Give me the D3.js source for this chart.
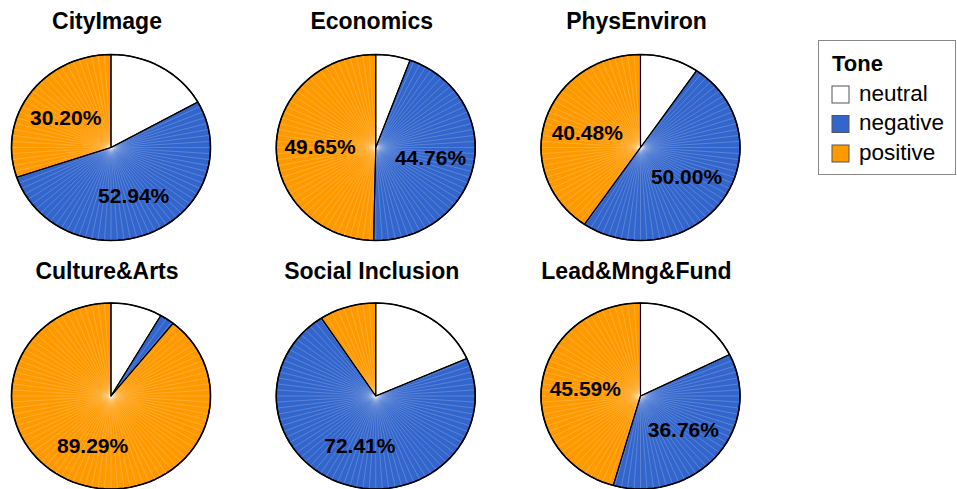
<!DOCTYPE html>
<html>
<head>
<meta charset="utf-8">
<script src="https://cdn.jsdelivr.net/npm/d3@7/dist/d3.min.js"></script>
<style>
  html, body { margin: 0; padding: 0; background: #fff; }
  svg { display: block; font-family: "Liberation Sans", Arial, sans-serif; }
</style>
</head>
<body>
<svg id="chart" width="957" height="489"></svg>
<script>
// ---- data ----
const panels = ["CityImage", "Economics", "PhysEnviron", "Culture&Arts", "Social Inclusion", "Lead&Mng&Fund"];
const tones = ["neutral", "negative", "positive"];
const neutralCounts  = [43, 8, 8, 7, 16, 12];
const negativeCounts = [135, 64, 42, 2, 63, 25];
const positiveCounts = [77, 71, 34, 75, 8, 31];

// ---- layout ----
const svg = d3.select("#chart");
const colX = d3.scalePoint().domain([0, 1, 2]).range([111, 640.5]);
const rowY = d3.scalePoint().domain([0, 1]).range([147.5, 396]);
const titleY = d3.scalePoint().domain([0, 1]).range([29, 279]);
const rx = 99.5, ry = 93;
const color = d3.scaleOrdinal().domain(tones).range(["#ffffff", "#3366cc", "#ff9900"]);
const step = 2 * Math.PI / 96;
const pie = d3.pie().sort(null).value(d => d.count);
const fmt = d3.format(".2f");

function pt(cx, cy, a, r) {
  return [cx + rx * r * Math.sin(a), cy - ry * r * Math.cos(a)];
}
function arcAngles(a0, a1) {
  const angs = [a0];
  let k = Math.floor(a0 / step) + 1;
  while (k * step < a1 - 1e-9) { angs.push(k * step); k++; }
  angs.push(a1);
  return angs;
}

panels.forEach((name, i) => {
  const col = i % 3, row = Math.floor(i / 3);
  const cx = colX(col), cy = rowY(row);
  const data = tones.map((t, j) => ({
    tone: t,
    count: [neutralCounts, negativeCounts, positiveCounts][j][i]
  }));
  const total = d3.sum(data, d => d.count);
  const arcs = pie(data);
  const g = svg.append("g");

  arcs.forEach(a => {
    if (a.endAngle - a.startAngle <= 0) return;
    const angs = arcAngles(a.startAngle, a.endAngle);
    const fill = color(a.data.tone);
    const pts = angs.map(t => pt(cx, cy, t, 1));
    g.append("path")
      .attr("d", `M${cx},${cy}L` + pts.map(p => p.join(",")).join("L") + "Z")
      .attr("fill", fill).attr("stroke", "none");
    if (a.data.tone !== "neutral") {
      for (let k = 1; k < angs.length - 1; k++) {
        g.append("line")
          .attr("x1", cx).attr("y1", cy)
          .attr("x2", pts[k][0]).attr("y2", pts[k][1])
          .attr("stroke", "#ffffff")
          .attr("stroke-opacity", 0.38)
          .attr("stroke-width", 0.5);
      }
    }
  });
  arcs.forEach(a => {
    if (a.endAngle - a.startAngle <= 0) return;
    const angs = arcAngles(a.startAngle, a.endAngle);
    const pts = angs.map(t => pt(cx, cy, t, 1));
    g.append("path")
      .attr("d", `M${cx},${cy}L` + pts.map(p => p.join(",")).join("L") + "Z")
      .attr("fill", "none")
      .attr("stroke", "#000")
      .attr("stroke-width", 1.1)
      .attr("stroke-linejoin", "round");
  });
  const ring = d3.range(0, 96).map(k => pt(cx, cy, k * step, 1));
  g.append("path")
    .attr("d", "M" + ring.map(p => p.join(",")).join("L") + "Z")
    .attr("fill", "none")
    .attr("stroke", "#000")
    .attr("stroke-width", 1.6)
    .attr("stroke-linejoin", "round");

  arcs.forEach(a => {
    const frac = a.data.count / total;
    if (frac < 0.25) return;
    const mid = (a.startAngle + a.endAngle) / 2;
    const p = pt(cx, cy, mid, 0.56);
    g.append("text")
      .attr("x", p[0]).attr("y", p[1])
      .attr("text-anchor", "middle")
      .attr("dominant-baseline", "central")
      .attr("font-size", 21)
      .attr("font-weight", "bold")
      .attr("fill", "#000")
      .text(fmt(frac * 100) + "%");
  });

  svg.append("text")
    .attr("x", cx - 4).attr("y", titleY(row))
    .attr("text-anchor", "middle")
    .attr("font-size", 23)
    .attr("font-weight", "bold")
    .attr("fill", "#000")
    .text(name);
});

// ---- legend ----
const lg = svg.append("g").attr("transform", "translate(818,40)");
lg.append("rect")
  .attr("x", 0.5).attr("y", 0.5).attr("width", 137).attr("height", 134)
  .attr("fill", "#fff").attr("stroke", "#888").attr("stroke-width", 1);
lg.append("text")
  .attr("x", 14).attr("y", 31)
  .attr("font-size", 22).attr("font-weight", "bold")
  .text("Tone");
tones.forEach((t, j) => {
  const y = 46 + j * 29.5;
  lg.append("rect")
    .attr("x", 14).attr("y", y).attr("width", 17).attr("height", 17)
    .attr("fill", color(t)).attr("stroke", "#555").attr("stroke-width", 1);
  lg.append("text")
    .attr("x", 41).attr("y", y + 14.5)
    .attr("font-size", 22.5)
    .text(t);
});
</script>
</body>
</html>
